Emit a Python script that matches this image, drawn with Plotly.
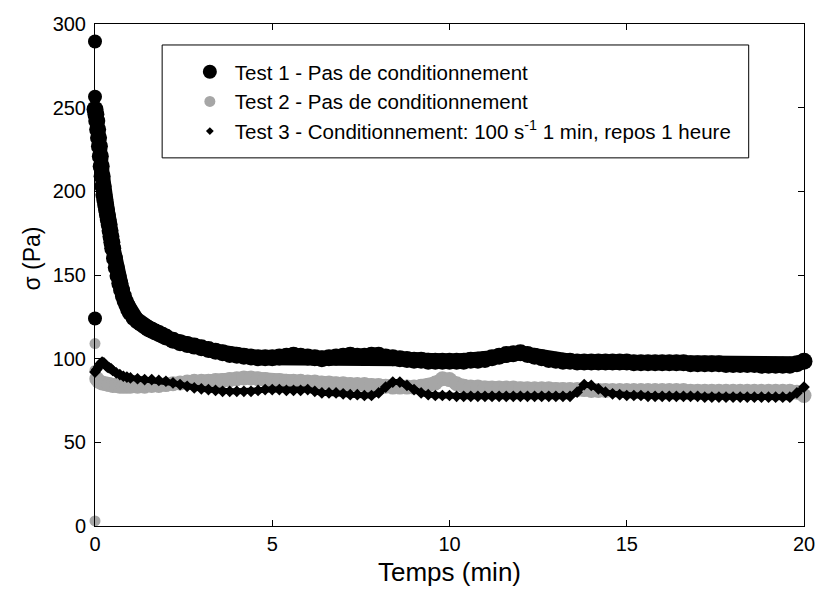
import plotly.graph_objects as go

# ---------------- data ----------------
# Test 1 - Pas de conditionnement (black circles)
t1_init = [0, 0, 0]
s1_init = [289.5, 256.5, 124]
t1 = [0.000, 0.025, 0.050, 0.075, 0.100, 0.125, 0.150, 0.175, 0.200, 0.225,
      0.250, 0.275, 0.300, 0.325, 0.350, 0.375, 0.400, 0.425, 0.450, 0.475, 0.500,
      0.55, 0.60, 0.65, 0.70, 0.75, 0.80, 0.85, 0.90, 0.95, 1.00,
      1.1, 1.2, 1.3, 1.4, 1.5, 1.6, 1.7, 1.8, 1.9, 2.0,
      2.2, 2.4, 2.6, 2.8, 3.0, 3.2, 3.4, 3.6, 3.8, 4.0,
      4.2, 4.4, 4.6, 4.8, 5.0, 5.2, 5.4, 5.6, 5.8, 6.0,
      6.2, 6.4, 6.6, 6.8, 7.0, 7.2, 7.4, 7.6, 7.8, 8.0,
      8.2, 8.4, 8.6, 8.8, 9.0, 9.2, 9.4, 9.6, 9.8, 10.0,
      10.2, 10.4, 10.6, 10.8, 11.0, 11.2, 11.4, 11.6, 11.8, 12.0,
      12.2, 12.4, 12.6, 12.8, 13.0, 13.2, 13.4, 13.6, 13.8, 14.0,
      14.2, 14.4, 14.6, 14.8, 15.0, 15.2, 15.4, 15.6, 15.8, 16.0,
      16.2, 16.4, 16.6, 16.8, 17.0, 17.2, 17.4, 17.6, 17.8, 18.0,
      18.2, 18.4, 18.6, 18.8, 19.0, 19.2, 19.4, 19.6, 19.8, 20.0]
s1 = [249, 246, 242, 237, 232, 227, 221, 215, 209, 203,
      198, 195, 192, 189, 186, 183, 180, 176.5, 173, 169.5, 166,
      160, 154.5, 149.5, 145, 141, 137.5, 134.5, 132, 129.5, 127.5,
      124.5, 122.5, 121, 119.5, 118, 117, 116, 115, 114, 113,
      111, 109.5, 108.5, 107.5, 106.5, 105.5, 104.5, 103.5, 102.5, 102,
      101.5, 101, 100.5, 100.5, 100.5, 101, 101.5, 102, 101.5, 101,
      100.5, 100, 100.5, 101, 101.5, 102, 101.5, 101.5, 102, 102,
      101, 100.5, 100, 99.5, 99, 99, 98.5, 98.5, 98.5, 98.5,
      98.5, 98.5, 99, 99, 99.5, 100.5, 101.5, 102.5, 103, 103.5,
      102.5, 101.5, 100.5, 99.5, 99, 98.5, 98.5, 98, 98, 98,
      98, 98, 98, 98, 98, 97.5, 97.5, 97.5, 97.5, 97.5,
      97.5, 97.5, 97.5, 97, 97, 97, 97, 97, 96.5, 96.5,
      96.5, 96.5, 96.5, 96, 96, 96, 96, 96, 97, 98.5]

# Test 2 - Pas de conditionnement (grey circles)
t2_init = [0, 0, 0]
s2_init = [3, 109, 93]
t2 = [0.05, 0.1, 0.2, 0.3, 0.4, 0.5, 0.6, 0.7, 0.8, 0.9, 1.0,
      1.2, 1.4, 1.6, 1.8, 2.0, 2.2, 2.4, 2.6, 2.8, 3.0,
      3.2, 3.4, 3.6, 3.8, 4.0, 4.2, 4.4, 4.6, 4.8, 5.0,
      5.2, 5.4, 5.6, 5.8, 6.0, 6.2, 6.4, 6.6, 6.8, 7.0,
      7.2, 7.4, 7.6, 7.8, 8.0, 8.2, 8.4, 8.6, 8.8, 9.0,
      9.2, 9.4, 9.6, 9.8, 10.0, 10.2, 10.4, 10.6, 10.8, 11.0,
      11.2, 11.4, 11.6, 11.8, 12.0, 12.2, 12.4, 12.6, 12.8, 13.0,
      13.2, 13.4, 13.6, 13.8, 14.0, 14.2, 14.4, 14.6, 14.8, 15.0,
      15.2, 15.4, 15.6, 15.8, 16.0, 16.2, 16.4, 16.6, 16.8, 17.0,
      17.2, 17.4, 17.6, 17.8, 18.0, 18.2, 18.4, 18.6, 18.8, 19.0,
      19.2, 19.4, 19.6, 19.8, 20.0]
s2 = [88, 86.5, 85.5, 85, 84.5, 84, 84, 83.5, 83.5, 83.5, 83.5,
      83.5, 83.5, 84, 84, 84.5, 85, 85.5, 86, 86.5, 86.5,
      86.5, 87, 87, 87.5, 88, 88.5, 88.5, 88, 87.5, 87,
      87, 86.5, 86.5, 86.5, 86, 86, 85.5, 85.5, 85, 85,
      84.5, 84.5, 84.5, 84, 84, 83.5, 83, 83, 83, 83,
      83.5, 84, 85.5, 88, 87.5, 85, 83.5, 83, 83, 82.5,
      82.5, 82.5, 82.5, 82.5, 82, 82, 82, 82, 82, 81.5,
      81.5, 81.5, 81.5, 81.5, 81, 81, 81, 81, 81, 81,
      81, 81, 81, 81, 81, 81, 81, 81, 80.5, 80.5,
      80.5, 80.5, 80.5, 80.5, 80.5, 80.5, 80.5, 80.5, 80.5, 80.5,
      80.5, 80.5, 80.5, 80, 78]

# Test 3 - Conditionnement (small black diamonds)
t3 = [0.00, 0.05, 0.10, 0.15, 0.20, 0.25, 0.30, 0.35, 0.40, 0.45, 0.50,
      0.6, 0.7, 0.8, 0.9, 1.0,
      1.2, 1.4, 1.6, 1.8, 2.0, 2.2, 2.4, 2.6, 2.8, 3.0,
      3.2, 3.4, 3.6, 3.8, 4.0, 4.2, 4.4, 4.6, 4.8, 5.0,
      5.2, 5.4, 5.6, 5.8, 6.0, 6.2, 6.4, 6.6, 6.8, 7.0,
      7.2, 7.4, 7.6, 7.8, 8.0, 8.2, 8.4, 8.6, 8.8, 9.0,
      9.2, 9.4, 9.6, 9.8, 10.0, 10.2, 10.4, 10.6, 10.8, 11.0,
      11.2, 11.4, 11.6, 11.8, 12.0, 12.2, 12.4, 12.6, 12.8, 13.0,
      13.2, 13.4, 13.6, 13.8, 14.0, 14.2, 14.4, 14.6, 14.8, 15.0,
      15.2, 15.4, 15.6, 15.8, 16.0, 16.2, 16.4, 16.6, 16.8, 17.0,
      17.2, 17.4, 17.6, 17.8, 18.0, 18.2, 18.4, 18.6, 18.8, 19.0,
      19.2, 19.4, 19.6, 19.8, 20.0]
s3 = [92, 93.5, 95, 97, 98, 97.5, 96, 95, 94.5, 94, 93,
      91.5, 90.5, 89.5, 89, 88.5,
      88, 87.5, 87.5, 87, 86.5, 85.5, 84.5, 83.5, 82.5, 82,
      81.5, 81, 80.5, 80.5, 80.5, 80.5, 80.5, 81, 81.5, 81.5,
      81.5, 81, 81, 81, 81.5, 80.5, 79.5, 79.5, 79.5, 79,
      78.5, 78.5, 78, 78, 79.5, 83, 86, 86, 84, 81.5,
      79.5, 78.5, 78, 78, 78, 77.5, 77.5, 77.5, 77.5, 77.5,
      77.5, 77.5, 77.5, 77.5, 77.5, 77.5, 77.5, 77.5, 77.5, 77.5,
      77.5, 77.5, 80, 84.5, 84, 82, 80, 79, 78.5, 78,
      78, 78, 77.5, 77.5, 77.5, 77.5, 77.5, 77.5, 77.5, 77.5,
      77, 77, 77, 77, 77, 77, 77, 77, 77, 77,
      77, 77, 77, 79.5, 83]

names = ["Test 1 - Pas de conditionnement",
         "Test 2 - Pas de conditionnement",
         "Test 3 - Conditionnement: 100 s<sup>-1</sup> 1 min, repos 1 heure"]

x_ticks = [0, 5, 10, 15, 20]
y_ticks = [0, 50, 100, 150, 200, 250, 300]

FONT = "Liberation Sans, Arial, sans-serif"
GREY = "#a6a6a6"

fig = go.Figure()

def band(x, y, color, symbol, msize, lwidth):
    fig.add_trace(go.Scatter(x=x, y=y, mode="lines+markers", showlegend=False, cliponaxis=False,
                             line=dict(color=color, width=lwidth),
                             marker=dict(symbol=symbol, size=msize, color=color, line=dict(width=0))))

def dots(x, y, color, symbol, msize):
    fig.add_trace(go.Scatter(x=x, y=y, mode="markers", showlegend=False, cliponaxis=False,
                             marker=dict(symbol=symbol, size=msize, color=color, line=dict(width=0))))

dots(t1_init, s1_init, "black", "circle", 14)
band(t1, s1, "black", "circle", 17, 15)
dots(t2_init, s2_init, GREY, "circle", 11)
band(t2, s2, GREY, "circle", 15, 13)
band(t3, s3, "black", "diamond", 9, 6)

# legend entries
leg_styles = [dict(symbol="circle", size=14, color="black"),
              dict(symbol="circle", size=11, color=GREY),
              dict(symbol="diamond", size=6, color="black")]
for nm, st in zip(names, leg_styles):
    fig.add_trace(go.Scatter(x=[None], y=[None], mode="markers", name=nm, marker=st))

# legend frame (pixel positions converted to paper)
L, R, T, B = 95, 813, 24, 526.5
def px(xp): return (xp - L) / (R - L)
def py(yp): return (B - yp) / (B - T)

fig.add_shape(type="rect", xref="paper", yref="paper",
              x0=px(163), x1=px(757), y0=py(158), y1=py(45),
              line=dict(color="black", width=1), fillcolor="white", layer="below")

# y axis title placed like the reference
fig.add_annotation(text="σ (Pa)", xref="paper", yref="paper", x=px(31), y=py(259),
                   textangle=-90, showarrow=False, xanchor="center", yanchor="middle",
                   font=dict(family=FONT, size=23, color="black"))

axis_common = dict(showline=True, linecolor="black", linewidth=1, mirror="ticks",
                   ticks="inside", ticklen=6, tickcolor="black", tickwidth=1,
                   showgrid=False, zeroline=False,
                   tickfont=dict(family=FONT, size=20, color="black"))

fig.update_layout(
    width=827, height=603,
    margin=dict(l=L, r=827 - R, t=T, b=603 - B),
    paper_bgcolor="white", plot_bgcolor="white",
    font=dict(family=FONT, color="black"),
    xaxis=dict(range=[0, 20], tickvals=x_ticks,
               title=dict(text="Temps (min)", font=dict(family=FONT, size=26, color="black"), standoff=8),
               **axis_common),
    yaxis=dict(range=[0, 300], tickvals=y_ticks, ticklabelstandoff=4,
               **axis_common),
    legend=dict(x=px(186), y=py(52), xanchor="left", yanchor="top",
                bgcolor="rgba(0,0,0,0)", borderwidth=0,
                font=dict(family=FONT, size=20.5, color="black"),
                itemwidth=40, tracegroupgap=0),
)

fig.write_html("out.html")
